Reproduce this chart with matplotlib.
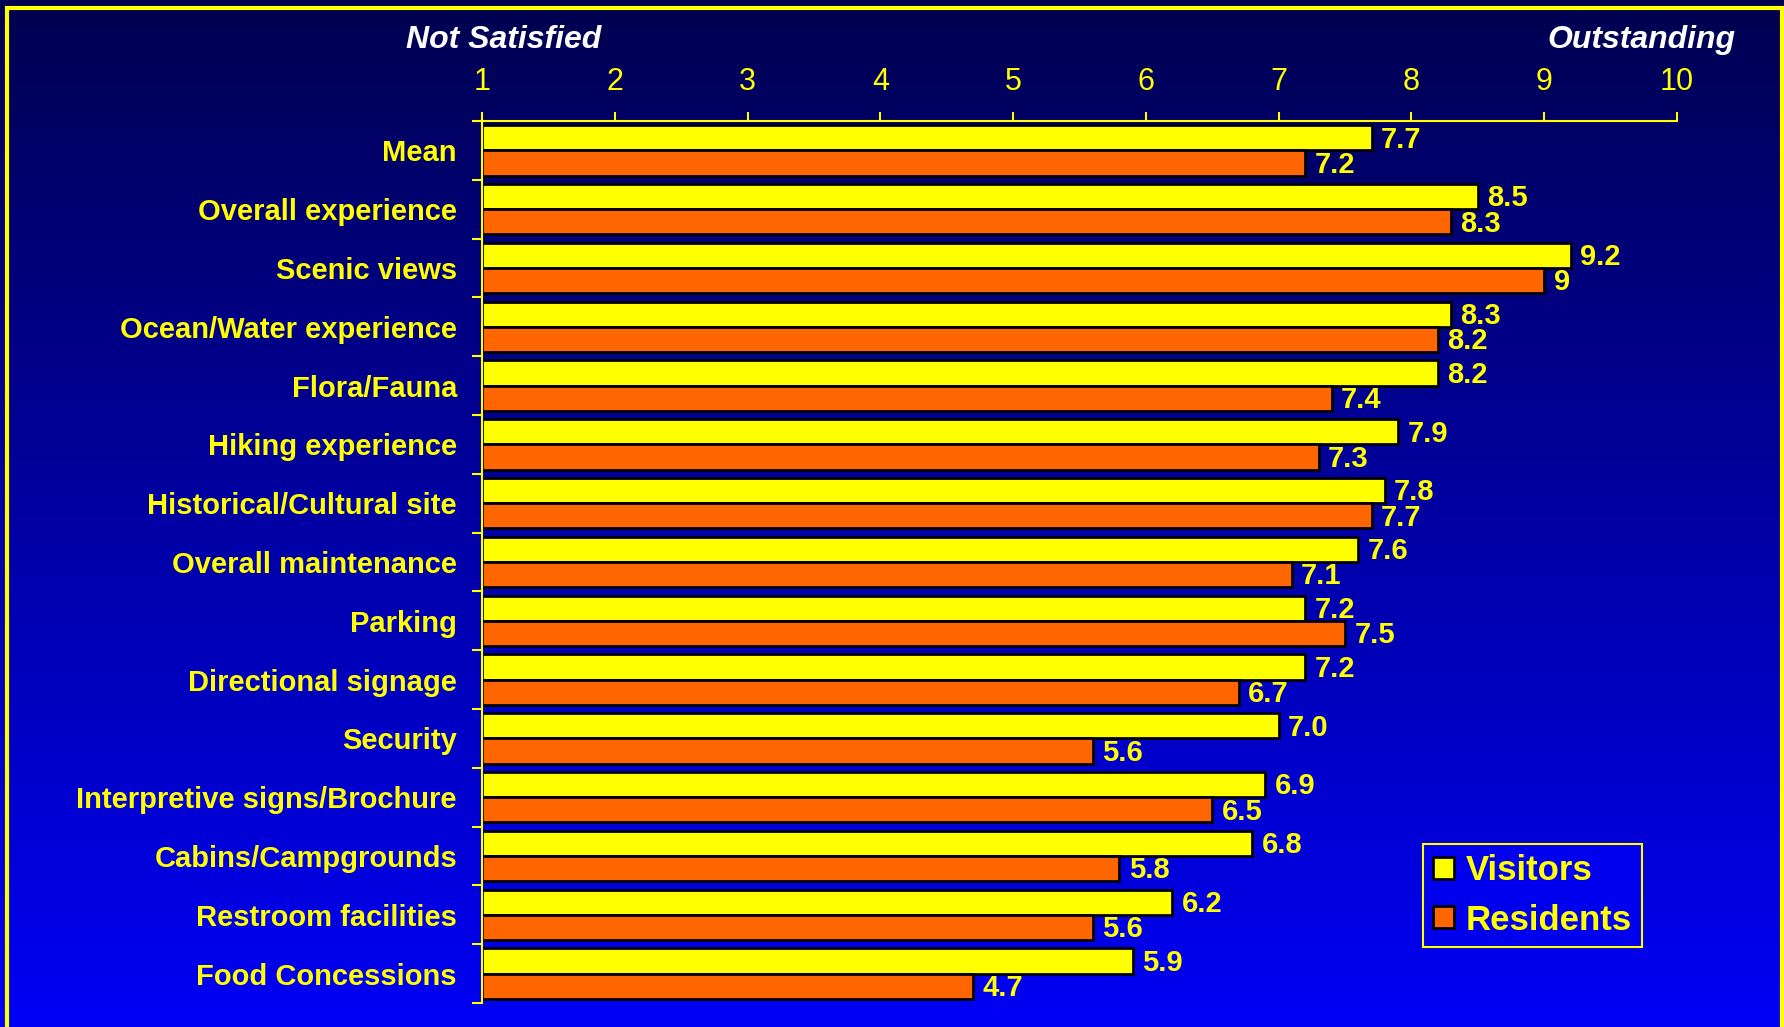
import numpy as np
import matplotlib
matplotlib.use("Agg")
import matplotlib.pyplot as plt
from matplotlib.patches import Rectangle

categories = ["Mean", "Overall experience", "Scenic views", "Ocean/Water experience",
              "Flora/Fauna", "Hiking experience", "Historical/Cultural site",
              "Overall maintenance", "Parking", "Directional signage", "Security",
              "Interpretive signs/Brochure", "Cabins/Campgrounds",
              "Restroom facilities", "Food Concessions"]
visitors = [7.7, 8.5, 9.2, 8.3, 8.2, 7.9, 7.8, 7.6, 7.2, 7.2, 7.0, 6.9, 6.8, 6.2, 5.9]
residents = [7.2, 8.3, 9.0, 8.2, 7.4, 7.3, 7.7, 7.1, 7.5, 6.7, 5.6, 6.5, 5.8, 5.6, 4.7]
visitor_labels = ["7.7", "8.5", "9.2", "8.3", "8.2", "7.9", "7.8", "7.6", "7.2", "7.2",
                  "7.0", "6.9", "6.8", "6.2", "5.9"]
resident_labels = ["7.2", "8.3", "9", "8.2", "7.4", "7.3", "7.7", "7.1", "7.5", "6.7",
                   "5.6", "6.5", "5.8", "5.6", "4.7"]
xticks = [1, 2, 3, 4, 5, 6, 7, 8, 9, 10]

YEL = "#FFFF00"
ORA = "#FF6600"
plt.rcParams['font.family'] = ['Liberation Sans', 'DejaVu Sans']

fig = plt.figure(figsize=(17.84, 10.27), dpi=100)

# gradient background
bg = fig.add_axes([0, 0, 1, 1], zorder=-2)
grad = np.linspace(0, 1, 256).reshape(-1, 1)
top = np.array([0, 0, 80]) / 255
bot = np.array([0, 0, 245]) / 255
img = top + (bot - top) * grad[:, :, None]
bg.imshow(img, aspect='auto', extent=[0, 1, 0, 1], origin='upper')
bg.set_axis_off()
# yellow frame (bottom edge is cut off)
fig.patches.append(Rectangle((7 / 1784, -0.05), 1775 / 1784, 1.05 - 8 / 1027, transform=fig.transFigure,
                             fill=False, edgecolor=YEL, linewidth=3, zorder=5))

ax = fig.add_axes([482 / 1784, 1 - 1003 / 1027, 1195 / 1784, 882 / 1027])
ax.set_facecolor('none')

n = len(categories)
y = np.arange(n)
h = 0.43
ax.barh(y - h / 2, np.array(visitors) - 1, left=1, height=h, color=YEL,
        edgecolor='black', linewidth=2, label='Visitors')
ax.barh(y + h / 2, np.array(residents) - 1, left=1, height=h, color=ORA,
        edgecolor='black', linewidth=2, label='Residents')

for i in range(n):
    ax.text(visitors[i] + 0.07, y[i] - h / 2 + 0.03, visitor_labels[i], color=YEL,
            fontsize=21, fontweight='bold', va='center', ha='left')
    ax.text(residents[i] + 0.07, y[i] + h / 2 + 0.03, resident_labels[i], color=YEL,
            fontsize=21, fontweight='bold', va='center', ha='left')

ax.set_xlim(1, 10)
ax.set_ylim(n - 0.5, -0.5)
ax.xaxis.tick_top()
ax.set_xticks(xticks)
ax.tick_params(axis='x', colors=YEL, labelsize=22, length=6.5, width=1.5, pad=11)
ax.set_yticks(y)
ax.set_yticklabels(categories, fontsize=21, fontweight='bold', color=YEL)
ax.tick_params(axis='y', which='major', length=0, pad=18)
ax.set_yticks(np.arange(n + 1) - 0.5, minor=True)
ax.tick_params(axis='y', which='minor', length=7, width=1.5, color=YEL)
for s in ['right', 'bottom']:
    ax.spines[s].set_visible(False)
for s in ['left', 'top']:
    ax.spines[s].set_color(YEL)
    ax.spines[s].set_linewidth(1.5)

fig.text(504 / 1784, 1 - 40 / 1027, "Not Satisfied", color='white', fontsize=23,
         fontweight='bold', style='italic', ha='center', va='center')
fig.text(1641 / 1784, 1 - 40 / 1027, "Outstanding", color='white', fontsize=23,
         fontweight='bold', style='italic', ha='center', va='center')

leg = ax.legend(loc='lower left', bbox_to_anchor=(0.7875, 0.0635), borderaxespad=0,
                fontsize=25, frameon=True, facecolor='#0000EE', edgecolor=YEL,
                framealpha=1, fancybox=False, handlelength=0.6, handleheight=0.6,
                handletextpad=0.32, borderpad=0.3, labelspacing=0.47)
leg.get_frame().set_linewidth(1.5)
for t in leg.get_texts():
    t.set_color(YEL)
    t.set_fontweight('bold')

fig.savefig("out.png", dpi=100)
